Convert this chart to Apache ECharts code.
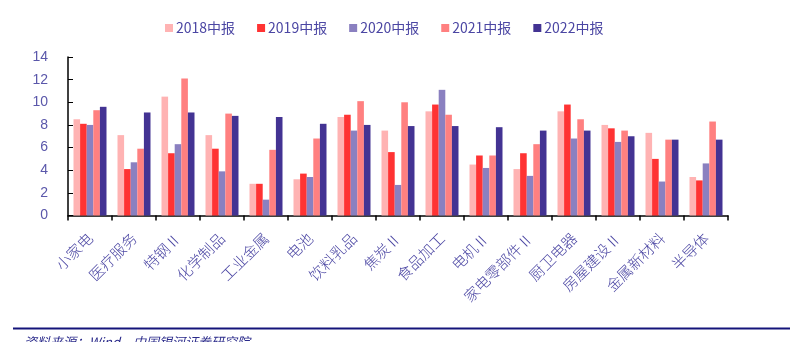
<!DOCTYPE html>
<html>
<head>
<meta charset="utf-8">
<script src="https://cdn.jsdelivr.net/npm/echarts@6/dist/echarts.min.js"></script>
<style>
  html, body { margin: 0; padding: 0; background: #fff; }
  #chart { width: 790px; height: 342px; }
</style>
</head>
<body>
<div id="chart"></div>
<script>
// 各行业中报 ROE（%）
const categories = ['小家电', '医疗服务', '特钢Ⅱ', '化学制品', '工业金属', '电池', '饮料乳品', '焦炭Ⅱ',
  '食品加工', '电机Ⅱ', '家电零部件Ⅱ', '厨卫电器', '房屋建设Ⅱ', '金属新材料', '半导体'];
const seriesNames = ['2018中报', '2019中报', '2020中报', '2021中报', '2022中报'];
const v2018 = [8.5, 7.1, 10.5, 7.1, 2.8, 3.2, 8.7, 7.5, 9.2, 4.5, 4.1, 9.2, 8.0, 7.3, 3.4];
const v2019 = [8.1, 4.1, 5.5, 5.9, 2.8, 3.7, 8.9, 5.6, 9.8, 5.3, 5.5, 9.8, 7.7, 5.0, 3.1];
const v2020 = [8.0, 4.7, 6.3, 3.9, 1.4, 3.4, 7.5, 2.7, 11.1, 4.2, 3.5, 6.8, 6.5, 3.0, 4.6];
const v2021 = [9.3, 5.9, 12.1, 9.0, 5.8, 6.8, 10.1, 10.0, 8.9, 5.3, 6.3, 8.5, 7.5, 6.7, 8.3];
const v2022 = [9.6, 9.1, 9.1, 8.8, 8.7, 8.1, 8.0, 7.9, 7.9, 7.8, 7.5, 7.5, 7.0, 6.7, 6.7];
const yTicks = [0, 2, 4, 6, 8, 10, 12, 14];

const values = [v2018, v2019, v2020, v2021, v2022];
const colors = ['#ffb3b3', '#ff3333', '#8a80c0', '#ff8080', '#433393'];
const textBlue = '#4b46a3';

const chart = echarts.init(document.getElementById('chart'), null, { renderer: 'canvas' });
chart.setOption({
  animation: false,
  color: colors,
  legend: {
    data: seriesNames,
    left: 160,
    top: 16,
    itemWidth: 8,
    itemHeight: 8,
    itemGap: 22,
    icon: 'rect',
    textStyle: { color: textBlue, fontSize: 14, fontFamily: 'Noto Sans CJK SC', padding: [0, 0, 0, -2] }
  },
  grid: { left: 68, right: 62, top: 57, bottom: 126.5, containLabel: false },
  xAxis: {
    type: 'category',
    data: categories,
    axisLine: { lineStyle: { color: '#000', width: 1.5 } },
    axisTick: { show: true, length: 5, lineStyle: { color: '#000', width: 1.5 } },
    axisLabel: {
      rotate: 45,
      interval: 0,
      margin: 20,
      color: textBlue,
      fontSize: 15,
      fontFamily: 'Noto Sans CJK SC',
      fontWeight: 300
    }
  },
  yAxis: {
    type: 'value',
    min: yTicks[0],
    max: yTicks[yTicks.length - 1],
    interval: 2,
    splitLine: { show: false },
    axisLine: { show: true, lineStyle: { color: '#000', width: 1.5 } },
    axisTick: { show: true, inside: true, length: 5, lineStyle: { color: '#000' } },
    axisLabel: { color: '#5a57aa', fontSize: 14, fontFamily: 'Liberation Sans', margin: 20 }
  },
  series: seriesNames.map((name, i) => ({
    name: name,
    type: 'bar',
    data: values[i],
    barGap: '0%',
    barCategoryGap: '25%',
    itemStyle: { color: colors[i] }
  })),
  graphic: [
    {
      type: 'rect',
      shape: { x: 13, y: 327.5, width: 777, height: 2 },
      style: { fill: '#14147a' }
    },
    {
      type: 'text',
      left: 24,
      top: 336,
      style: {
        text: '资料来源：Wind，中国银河证券研究院',
        fill: '#2a2a8a',
        font: 'italic 13px "Noto Sans CJK SC"'
      }
    }
  ]
});
</script>
</body>
</html>
